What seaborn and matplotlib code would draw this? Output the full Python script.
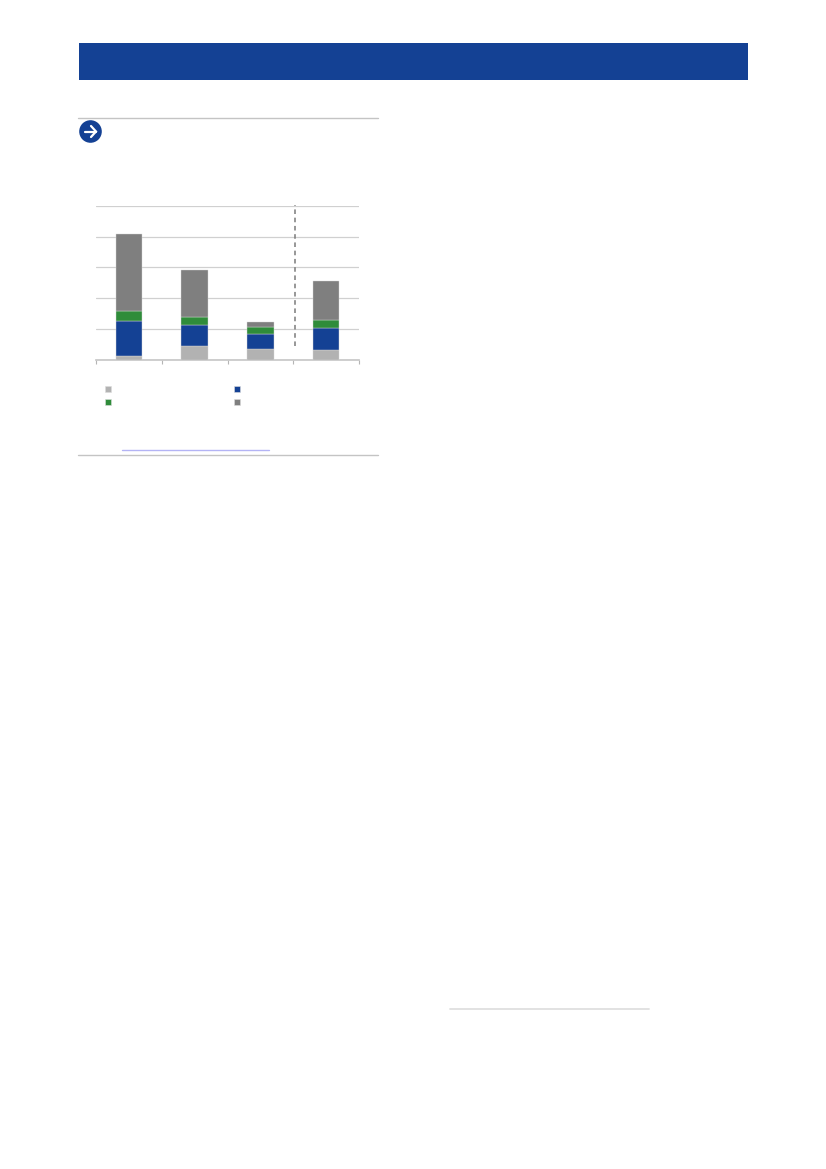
import numpy as np
import pandas as pd
import matplotlib
matplotlib.use('Agg')
import matplotlib.pyplot as plt
from matplotlib.patches import Rectangle, Circle
from matplotlib.lines import Line2D
import seaborn as sns

# the text in the reference is blank, so the categories are only placeholders
categories = ['a', 'b', 'c', 'd']
light = [1.0, 4.4, 3.3, 3.1]
blue = [11.6, 6.9, 5.0, 7.3]
green = [3.3, 2.6, 2.3, 2.6]
grey = [25.0, 15.3, 1.5, 12.7]
yticks = [0, 10, 20, 30, 40, 50]

colors = ['#b2b2b2', '#144194', '#2f8c3a', '#7f7f7f']

df = pd.DataFrame({'cat': categories, 'light': light, 'blue': blue, 'green': green, 'grey': grey})

sns.set_theme(style='white')
W, H = 826, 1169
fig = plt.figure(figsize=(W / 100, H / 100), dpi=100, facecolor='white')

# page furniture, drawn in pixel coords
page = fig.add_axes([0, 0, 1, 1], zorder=0)
page.set_xlim(0, W)
page.set_ylim(H, 0)
page.axis('off')
page.add_patch(Rectangle((79, 43), 669, 37, color='#144194', lw=0))
page.plot([78, 377.5], [118, 118], color='#c4c4c4', lw=1)
page.plot([78, 377.5], [454.7, 454.7], color='#c4c4c4', lw=1)
page.plot([122, 268.5], [449.5, 449.5], color='#b4b4f5', lw=1)
page.plot([449.5, 648.5], [1009, 1009], color='#dfdfdf', lw=1.3)
page.add_patch(Circle((90.5, 131.5), 11.3, color='#144194', lw=0))
page.plot([84.5, 96], [131.5, 131.5], color='white', lw=1.6, solid_capstyle='round')
page.plot([91, 96, 91], [126, 131.5, 137], color='white', lw=1.6, solid_capstyle='round', solid_joinstyle='miter')

ax = fig.add_axes([96 / W, 1 - 359.5 / H, 263 / W, 153.5 / H], zorder=1)
ax.patch.set_alpha(0)

bottom = np.zeros(len(categories))
for name, c in zip(['light', 'blue', 'green', 'grey'], colors):
    sns.barplot(data=df, x='cat', y=name, bottom=bottom, color=c, width=0.4, saturation=1,
                edgecolor='#d5d5d5', linewidth=0.3, ax=ax, zorder=3)
    bottom = bottom + df[name].values

ax.set_xlim(-0.5, 3.5)
ax.set_ylim(0, 50)
ax.set_xticks([-0.5, 0.5, 1.5, 2.5, 3.5])
ax.set_yticks(yticks)
ax.set_xticklabels([])
ax.set_yticklabels([])
ax.set_xlabel('')
ax.set_ylabel('')
ax.grid(axis='y', color='#d0d0d0', lw=0.9)
ax.set_axisbelow(True)
ax.tick_params(axis='x', bottom=True, length=3, width=0.8, color='#b5b5b5')
ax.tick_params(axis='y', left=False)
sns.despine(ax=ax, left=True, top=True, right=True)
ax.spines['bottom'].set_color('#c8c8c8')

# forecast divider
ax.plot([2.527, 2.527], [4.4, 50.3], color='#7a7a7a', lw=1.1, ls=(0, (3, 2.4)), clip_on=False, zorder=4)

handles = [Line2D([], [], ls='', marker='s', ms=4.6, mfc=c, mec='#dddddd', mew=0.4) for c in colors]
# filled by column: light, green / blue, grey
order = [0, 2, 1, 3]
fig.legend([handles[i] for i in order], [' '] * 4, ncols=2, frameon=False,
           loc='center left', bbox_to_anchor=(90 / W, 1 - 396.3 / H),
           columnspacing=8.8, handlelength=1, handletextpad=0.2, labelspacing=0.05, fontsize=9)

fig.savefig('out.png', dpi=100, facecolor='white')
